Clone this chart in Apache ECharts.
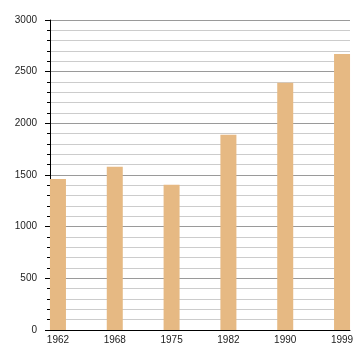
<!DOCTYPE html>
<html>
<head>
<meta charset="utf-8">
<script src="https://cdn.jsdelivr.net/npm/echarts@6/dist/echarts.min.js"></script>
<style>html,body{margin:0;padding:0;background:#fff}#c{width:360px;height:360px}</style>
</head>
<body>
<div id="c"></div>
<script>
var years = ['1962', '1968', '1975', '1982', '1990', '1999'];
var populations = [1461, 1580, 1406, 1890, 2393, 2670];
var yTicks = [0, 500, 1000, 1500, 2000, 2500, 3000];

var chart = echarts.init(document.getElementById('c'), null, {renderer: 'canvas'});
var idx = years.map(function (y, i) { return i; });
chart.setOption({
  animation: false,
  backgroundColor: '#fff',
  grid: {left: 50, right: 10, top: 20, bottom: 30, containLabel: false},
  xAxis: {
    type: 'value',
    min: -0.14,
    max: 5.14,
    splitLine: {show: false},
    axisTick: {show: false},
    axisLine: {show: true, onZero: false, lineStyle: {color: '#000', width: 1}},
    axisLabel: {
      customValues: idx,
      formatter: function (v) { return years[Math.round(v)]; },
      color: '#222',
      fontSize: 10,
      fontFamily: 'Liberation Sans, Arial, sans-serif',
      margin: 5
    }
  },
  yAxis: {
    type: 'value',
    min: yTicks[0],
    max: yTicks[yTicks.length - 1],
    interval: yTicks[1] - yTicks[0],
    axisLine: {show: true, onZero: false, lineStyle: {color: '#000', width: 1}},
    axisTick: {show: true, length: 5, lineStyle: {color: '#000'}},
    minorTick: {show: true, splitNumber: 5, length: 3, lineStyle: {color: '#000'}},
    splitLine: {show: true, lineStyle: {color: '#9a9a9a', width: 1}},
    minorSplitLine: {show: true, lineStyle: {color: '#cccccc', width: 1}},
    axisLabel: {
      formatter: function (v) { return String(v); },
      color: '#222',
      fontSize: 10,
      fontFamily: 'Liberation Sans, Arial, sans-serif',
      margin: 13
    }
  },
  series: [{
    type: 'bar',
    barWidth: 16,
    itemStyle: {color: '#e6b983'},
    data: years.map(function (y, i) { return [i, populations[i]]; })
  }]
});
</script>
</body>
</html>
